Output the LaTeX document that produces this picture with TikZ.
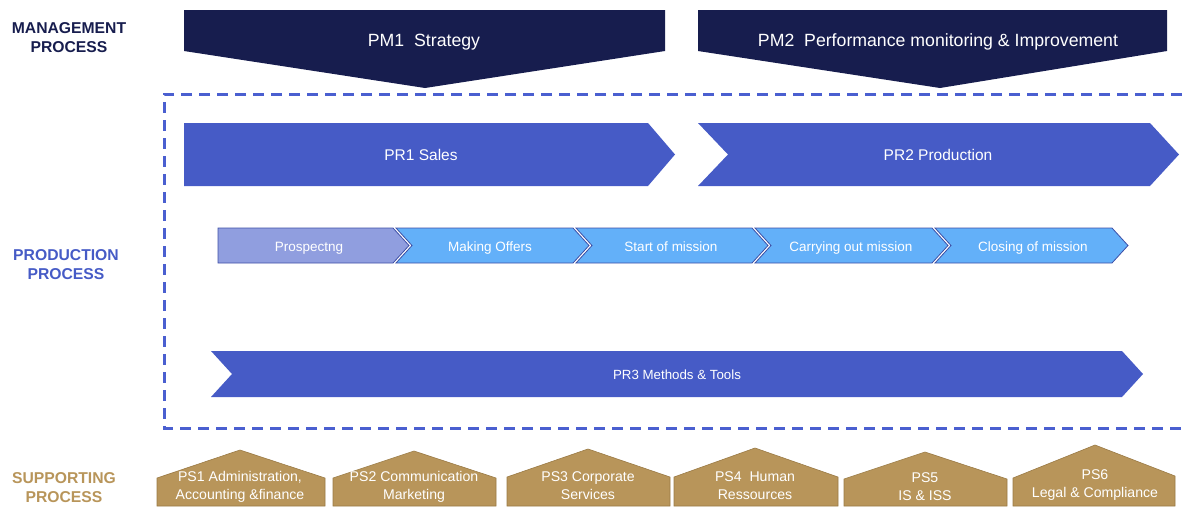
\documentclass[tikz,border=0pt]{standalone}
\usepackage{fontspec}
\setmainfont{Liberation Sans}
\usetikzlibrary{positioning}
\definecolor{pmnavy}{HTML}{171D4E}
\definecolor{prblue}{HTML}{465BC6}
\definecolor{prlight}{HTML}{909EDF}
\definecolor{stepblue}{HTML}{63B0F9}
\definecolor{stepedge}{HTML}{3E4FA6}
\definecolor{dashblue}{HTML}{4A5FD0}
\definecolor{pstan}{HTML}{B8955A}
\definecolor{psedge}{HTML}{9A7A45}

\begin{document}
\begin{tikzpicture}[x=1pt,y=-1pt,
    group label/.style={font=\fontsize{15.7}{19}\selectfont\bfseries,align=center},
    pm box/.style={fill=pmnavy},
    pr box/.style={fill=prblue},
    step box/.style={fill=stepblue,draw=stepedge,line width=0.8pt},
    ps box/.style={fill=pstan,draw=psedge,line width=0.6pt},
    pm text/.style={text=white,font=\fontsize{17.7}{21}\selectfont,text height=0.72em,text depth=0.2em},
    pr text/.style={text=white,font=\fontsize{15.5}{19}\selectfont,text height=0.72em,text depth=0.2em},
    step text/.style={text=white,font=\fontsize{13.5}{16}\selectfont,text height=0.72em,text depth=0.2em},
    ps text/.style={text=white,font=\fontsize{14.1}{18}\selectfont,align=center}]
   \useasboundingbox (0,0) rectangle (1187,507);

   % left column
   \node[group label,text=pmnavy] (mgmt) at (69,38) {MANAGEMENT\\PROCESS};
   \node[group label,text=prblue] (prod) at (66,265) {PRODUCTION\\PROCESS};
   \node[group label,text=pstan] (supp) at (64,488) {SUPPORTING\\PROCESS};

   % management
   \fill[pm box] (184,10) -- (665,10) -- (665,51) -- (425,88) -- (184,51) -- cycle;
   \fill[pm box] (698,10) -- (1167,10) -- (1167,51) -- (940,88) -- (698,51) -- cycle;
   \node[pm text] (pm1) at (424,44) {PM1\ \ Strategy};
   \node[pm text] (pm2) at (938,44) {PM2\ \ Performance monitoring \& Improvement};

   % production frame
   \draw[dashblue,line width=3pt,dash pattern=on 11pt off 7pt]
      (1200,94) -- (164,94) -- (164,428) -- (1200,428);

   \fill[pr box] (184,123) -- (648,123) -- (675,154.5) -- (648,186) -- (184,186) -- cycle;
   \fill[pr box] (698,123) -- (1150,123) -- (1179,154.5) -- (1150,186) -- (698,186) -- (728,154.5) -- cycle;
   \node[pr text] (pr1) at (421,158) {PR1 Sales};
   \node[pr text] (pr2) at (938,158) {PR2 Production};

   \draw[step box,fill=prlight] (218,228) -- (393,228) -- (409,245.5) -- (393,263) -- (218,263) -- cycle;
   \draw[step box] (396,228) -- (573,228) -- (589,245.5) -- (573,263) -- (396,263) -- (412,245.5) -- cycle;
   \draw[step box] (576,228) -- (752,228) -- (768,245.5) -- (752,263) -- (576,263) -- (592,245.5) -- cycle;
   \draw[step box] (755,228) -- (932,228) -- (948,245.5) -- (932,263) -- (755,263) -- (771,245.5) -- cycle;
   \draw[step box] (935,228) -- (1112,228) -- (1128,245.5) -- (1112,263) -- (935,263) -- (951,245.5) -- cycle;
   \node[step text] (prosp) at (309,248.5) {Prospectng};
   \node[step text] (offers) at (490,248.5) {Making Offers};
   \node[step text] (start) at (671,248.5) {Start of mission};
   \node[step text] (carry) at (851,248.5) {Carrying out mission};
   \node[step text] (close) at (1033,248.5) {Closing of mission};

   \fill[pr box] (211,351) -- (1122,351) -- (1143,374) -- (1122,397) -- (211,397) -- (232,374) -- cycle;
   \node[step text,font=\fontsize{13.3}{15}\selectfont] (pr3) at (677,377) {PR3 Methods \& Tools};

   % supporting
   \draw[ps box] (157,506) -- (157,478) -- (240,450) -- (325,478) -- (325,506) -- cycle;
   \draw[ps box] (333,506) -- (333,478) -- (414,451) -- (496,478) -- (496,506) -- cycle;
   \draw[ps box] (507,506) -- (507,477) -- (588,449) -- (670,477) -- (670,506) -- cycle;
   \draw[ps box] (674,506) -- (674,477) -- (755,448) -- (838,477) -- (838,506) -- cycle;
   \draw[ps box] (844,506) -- (844,479) -- (925,452) -- (1007,479) -- (1007,506) -- cycle;
   \draw[ps box] (1013,506) -- (1013,478) -- (1095,445) -- (1175,476) -- (1175,506) -- cycle;
   \node[ps text] (ps1) at (240,487) {PS1 Administration,\\Accounting \&finance};
   \node[ps text] (ps2) at (414,487) {PS2 Communication\\Marketing};
   \node[ps text] (ps3) at (588,486) {PS3 Corporate\\Services};
   \node[ps text] (ps4) at (755,486) {PS4\ \ Human\\Ressources};
   \node[ps text] (ps5) at (925,487) {PS5\\IS \& ISS};
   \node[ps text] (ps6) at (1095,485) {PS6\\Legal \& Compliance};
\end{tikzpicture}
\end{document}
